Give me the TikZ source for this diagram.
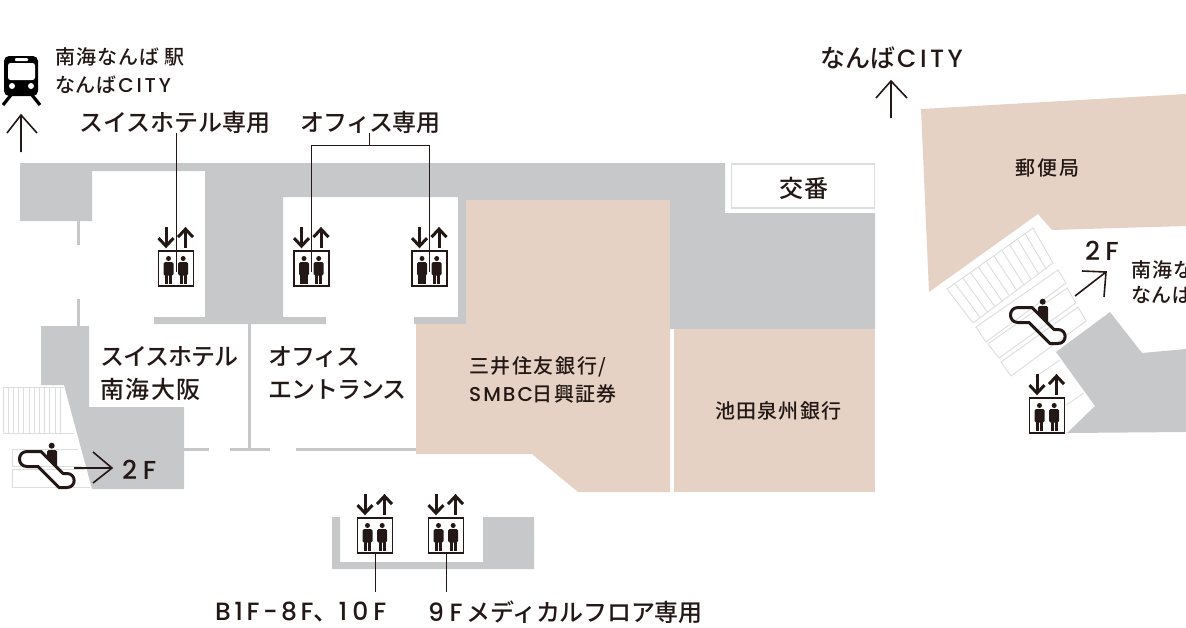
\documentclass[tikz,border=0pt]{standalone}
\usepackage{fontspec}
\setmainfont{Noto Sans CJK JP Medium}
\newfontfamily\lat{Poppins Medium}
\definecolor{wallgrey}{HTML}{C7C8CA}
\definecolor{tenant}{HTML}{E6D2C4}
\definecolor{ink}{HTML}{231815}
\definecolor{stairline}{HTML}{DCDDDD}
\newcommand{\spaced}[2]{{\addfontfeature{LetterSpace=#1}#2}}
\newcommand{\latin}[2]{{\lat\addfontfeature{LetterSpace=#1}#2}}
\newcommand{\fsz}[1]{\fontsize{#1}{#1}\selectfont}
\tikzset{
  x=1pt,y=-1pt,
  wall/.style={fill=wallgrey,draw=none},
  thinwall/.style={draw=wallgrey,line width=3pt},
  shop/.style={fill=tenant,draw=none},
  leader/.style={draw=ink,line width=0.9pt},
  sign/.style={draw=ink,line width=1.6pt,line join=miter},
  tread/.style={draw=stairline,line width=0.9pt},
  lab/.style={text=ink,inner sep=0pt,anchor=west},
  lab24/.style={lab,font=\fsz{24}},
  lab20/.style={lab,font=\fsz{20}},
  elev/.style={draw=ink,line width=1.8pt,fill=white,minimum size=35pt,inner sep=0pt},
  pics/arrs/.style={code={
    \draw[ink,line width=3pt] (-10,-23) -- (-10,-4);
    \draw[ink,line width=3pt] (-17.5,-12) -- (-10,-4) -- (-2.5,-12);
    \draw[ink,line width=3pt] (9.5,-2.5) -- (9.5,-21);
    \draw[ink,line width=3pt] (2,-13) -- (9.5,-21) -- (17,-13);
  }},
  pics/figs/.style={code={
    \foreach \c in {-7.5,7.2}{
      \fill[ink] (\c,-10) circle (2.5);
      \fill[ink,rounded corners=1.5pt] (\c-5,-6.5) rectangle (\c+5,7);
      \fill[ink] (\c-3.6,4) rectangle (\c-0.4,15.5);
      \fill[ink] (\c+0.4,4) rectangle (\c+3.6,15.5);
    }
  }},
  pics/esc/.style={code={
    \draw[ink,line width=3pt,line join=round,fill=none]
      (9,1.5) -- (23,1.5) -- (45,23.5) -- (49,23.5) .. controls (58.5,23.5) and (58.5,37.5) .. (49,37.5) -- (41,37.5) -- (20,16.5) -- (9,16.5) .. controls (-1,16.5) and (-1,1.5) .. (9,1.5) -- cycle;
    \fill[ink] (33.7,-4.3) circle (3);
    \fill[ink,rounded corners=1.5pt] (29,0) -- (39,0) -- (39,18) -- (33,13) -- (29,9) -- cycle;
  }}
}
\begin{document}
\begin{tikzpicture}
\path[use as bounding box] (0,0) rectangle (1186,627);
\clip (0,0) rectangle (1186,627);
\fill[white] (0,0) rectangle (1186,627);
% grey floor, left and centre
\path[wall] (20,163) -- (725,163) -- (725,213) -- (875,213) -- (875,329) -- (670,329) -- (670,200) -- (466,200) -- (466,324) -- (414,324) -- (414,317) -- (458,317) -- (458,197) -- (283,197) -- (283,317) -- (326,317) -- (326,324) -- (154,324) -- (154,317) -- (205,317) -- (205,171) -- (92,171) -- (92,221) -- (20,221) -- cycle;
\path[wall] (41,326) -- (89,326) -- (89,407) -- (184,407) -- (184,489) -- (92,489) -- (64,385) -- (41,385) -- cycle;
\path[wall] (332,517) -- (340,517) -- (340,562) -- (483,562) -- (483,517) -- (534,517) -- (534,569) -- (332,569) -- cycle;
% thin walls
\draw[thinwall] (78,221) -- (78,245);
\draw[thinwall] (78,299) -- (78,326);
\draw[thinwall] (249,324) -- (249,449);
\draw[thinwall] (184,449) -- (209,449);
\draw[thinwall] (230,449) -- (270,449);
\draw[thinwall] (296,449) -- (416,449);
% koban
\node[draw=stairline,line width=1.5pt,fill=white,minimum width=143pt,minimum height=44pt,inner sep=0pt] (koban) at (803,186) {};
\node[lab,anchor=center,font=\fsz{24}] (kobanlab) at (804,188) {\spaced{5}{交番}};
% tenants
\path[shop] (466,200) -- (670,200) -- (670,492) -- (578,492) -- (532,454) -- (416,454) -- (416,324) -- (466,324) -- cycle;
\path[shop] (674,329) -- (875,329) -- (875,492) -- (674,492) -- cycle;
\path[shop] (921,109) -- (1186,94) -- (1186,226) -- (1052,230) -- (1038,214) -- (929,292) -- cycle;
% grey floor right
\path[wall] (1110,312) -- (1142,353) -- (1186,349) -- (1186,432) -- (1067,433) -- (1095,406) -- (1056,352) -- cycle;
% left stairs
\draw[tread] (3,387) -- (64,387) (3,433) -- (74,433) (3,387) -- (3,433);
\foreach \sx in {8.2,13.4,18.6,23.8,29,34.2,39.4,44.6,49.8,55,60.2}{\draw[tread] (\sx,387) -- (\sx,433);}
\draw[tread] (78,449) -- (12,449) -- (12,466) -- (82,466);
\draw[tread] (85,469) -- (12,469) -- (12,487) -- (90,487);
% right stairs
\draw[tread] (947,289) -- (1033,228) -- (1053,263) -- (973,323) -- cycle;
\foreach \t in {1,...,10}{
  \draw[tread] ({947+\t*86/11},{289-\t*61/11}) -- ({973+\t*80/11},{323-\t*60/11});
}
\draw[tread] (976,327) -- (1058,270) -- (1066,283) -- (986,342) -- cycle;
\draw[tread] (988,344) -- (1067,288) -- (1076,303) -- (999,358) -- cycle;
\draw[tread] (1001,362) -- (1078,307) -- (1086,321) -- (1011,376) -- cycle;
\draw[tread] (1035,377) -- (1060,360);
\draw[tread] (1066,405) -- (1084,393);
% elevators
\foreach \n/\x/\y in {ea/176/268.5,eb/311.5/268.5,ec/429.5/268.5,ed/375/535.5,ee/446/535.5,ef/1047/415.5}{
  \node[elev] (\n) at (\x,\y) {};
  \pic at (\n.center) {figs};
  \pic at (\n.north) {arrs};
}
% labels
\node[lab24] (swissonly) at (79,122) {\spaced{0}{スイスホテル専用}};
\node[lab24] (officeonly) at (300,122) {\spaced{-3}{オフィス専用}};
\node[lab24] (swiss1) at (100,357) {\spaced{-4}{スイスホテル}};
\node[lab24] (swiss2) at (100,389) {\spaced{6}{南海大阪}};
\node[lab24] (off1) at (268,357) {\spaced{-4}{オフィス}};
\node[lab24] (off2) at (268,390) {\spaced{-4}{エントランス}};
\node[lab20] (nankai1) at (55,57) {\spaced{5}{南海なんば 駅}};
\node[lab20] (nankai2) at (55,85) {\spaced{3}{なんば}\hspace{2pt}\latin{14}{CITY}};
\node[lab,font=\fsz{25}] (city) at (820,58) {なんば\hspace{2pt}\latin{14}{CITY}};
\node[lab20] (smbc1) at (469,367) {\spaced{8}{三井住友銀行/}};
\node[lab20] (smbc2) at (469,394) {\latin{10}{SMBC}\spaced{6}{日興証券}};
\node[lab20] (ikeda) at (715,411) {\spaced{6}{池田泉州銀行}};
\node[lab20] (post) at (1015,168) {\spaced{10}{郵便局}};
\node[lab,font=\fsz{26}] (twofa) at (122,470) {\latin{22}{2F}};
\node[lab,font=\fsz{26}] (twofb) at (1085,251) {\latin{20}{2F}};
\node[lab20] (nankai3) at (1131,270) {\spaced{5}{南海なんば 駅}};
\node[lab20] (nankai4) at (1131,295) {\spaced{3}{なんば}\hspace{2pt}\latin{14}{CITY}};
\node[lab,font=\fsz{25}] (floorsa) at (215,612) {\latin{14}{B1F-8F}\spaced{-30}{、}\latin{20}{10F}};
\node[lab,font=\fsz{25}] (floorsb) at (428,612) {\latin{22}{9F}\hspace{4pt}{\fsz{24}\spaced{-1}{メディカルフロア専用}}};
% leaders
\draw[leader] (ea.center |- swissonly.south) -- ([yshift=-22pt]ea.north);
\coordinate (officejoin) at (369,145);
\draw[leader] (officejoin) -- (officejoin |- officeonly.south);
\draw[leader] ([yshift=-22pt]eb.north) -- (eb.center |- officejoin) -- (ec.center |- officejoin) -- ([yshift=-22pt]ec.north);
\coordinate (bottomend) at (0,592);
\draw[leader] (ed.south) -- (ed.south |- bottomend);
\draw[leader] (ee.south) -- (ee.south |- bottomend);
% direction arrows
\draw[sign] (21,152) -- (21,115) (7,133) -- (21,115) -- (37,133);
\draw[sign] (891,118) -- (891,81) (876,98) -- (891,81) -- (907,98);
\draw[sign] (74,468) -- (112,468) (93,452) -- (112,468) -- (93,483);
\draw[sign] (1075,296) -- (1106,272) (1082,271) -- (1106,272) -- (1104,297);
% escalators
\pic at (18,450) {esc};
\pic at (1009,306) {esc};
% train
\fill[black,rounded corners=5pt] (4,56) rectangle (38,96);
\fill[white,rounded corners=2.5pt] (8,63) rectangle (35,80);
\fill[white,rounded corners=1pt] (15,58) rectangle (28,61);
\fill[white] (12,86) circle (3) (31,86) circle (3);
\draw[black,line width=3.2pt] (11,95) -- (3,105) (32,95) -- (40,105);
\end{tikzpicture}
\end{document}
